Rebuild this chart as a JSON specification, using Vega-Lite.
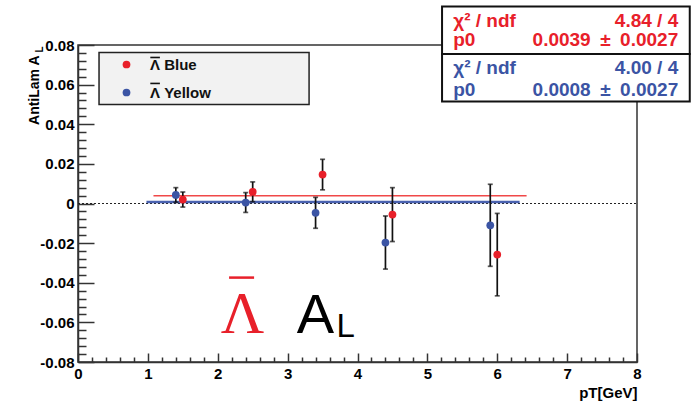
{
  "$schema": "https://vega.github.io/schema/vega-lite/v6.json",
  "width": 559,
  "height": 317,
  "autosize": {"type": "none"},
  "padding": {"left": 78, "top": 45, "right": 56, "bottom": 40},
  "background": "white",
  "config": {
    "view": {"stroke": "#333", "strokeWidth": 1.5},
    "font": "Liberation Sans"
  },
  "resolve": {"axis": {"x": "independent", "y": "independent"}},
  "datasets": {
    "points": [
      {"beam": "Λ̄ Blue", "pT": 1.5, "AL": 0.0020, "err": 0.0038},
      {"beam": "Λ̄ Blue", "pT": 2.5, "AL": 0.0059, "err": 0.0050},
      {"beam": "Λ̄ Blue", "pT": 3.5, "AL": 0.0146, "err": 0.0077},
      {"beam": "Λ̄ Blue", "pT": 4.5, "AL": -0.0056, "err": 0.0136},
      {"beam": "Λ̄ Blue", "pT": 6.0, "AL": -0.0258, "err": 0.0208},
      {"beam": "Λ̄ Yellow", "pT": 1.4, "AL": 0.0043, "err": 0.0037},
      {"beam": "Λ̄ Yellow", "pT": 2.4, "AL": 0.0005, "err": 0.0050},
      {"beam": "Λ̄ Yellow", "pT": 3.4, "AL": -0.0047, "err": 0.0078},
      {"beam": "Λ̄ Yellow", "pT": 4.4, "AL": -0.0197, "err": 0.0134},
      {"beam": "Λ̄ Yellow", "pT": 5.9, "AL": -0.0110, "err": 0.0207}
    ],
    "fits": [
      {"beam": "Λ̄ Blue", "p0": 0.0039, "lo": 1.08, "hi": 6.42, "chi2": "4.84 / 4", "p0txt": "0.0039\u2002±\u20020.0027"},
      {"beam": "Λ̄ Yellow", "p0": 0.0008, "lo": 0.98, "hi": 6.32, "chi2": "4.00 / 4", "p0txt": "0.0008\u2002±\u20020.0027"}
    ],
    "one": [{}]
  },
  "layer": [
    {
      "data": {"name": "one"},
      "mark": {"type": "rect", "fill": "#f2f2f2", "stroke": "#222", "strokeWidth": 1.5, "clip": false},
      "encoding": {"x": {"datum": 0.301, "axis": null}, "x2": {"datum": 3.307}, "y": {"datum": 0.0762, "axis": null}, "y2": {"datum": 0.0500}}
    },
    {
      "data": {"name": "one"},
      "mark": {"type": "rule", "color": "#111", "strokeWidth": 1.6},
      "encoding": {"x": {"datum": 1.035, "axis": null}, "x2": {"datum": 1.172}, "y": {"datum": 0.0737, "axis": null}}
    },
    {
      "data": {"name": "one"},
      "mark": {"type": "rule", "color": "#111", "strokeWidth": 1.6},
      "encoding": {"x": {"datum": 1.035, "axis": null}, "x2": {"datum": 1.172}, "y": {"datum": 0.0606, "axis": null}}
    },
    {
      "data": {"name": "one"},
      "mark": {"type": "rule", "color": "#222", "strokeWidth": 1.2, "strokeDash": [2, 2]},
      "encoding": {"x": {"datum": 0, "axis": null}, "x2": {"datum": 8}, "y": {"datum": 0, "axis": null}}
    },
    {
      "data": {"name": "fits"},
      "transform": [{"filter": "datum.beam == 'Λ̄ Yellow'"}],
      "mark": {"type": "rule", "color": "#4a62b0", "strokeWidth": 2.5},
      "encoding": {"x": {"field": "lo", "type": "quantitative", "axis": null}, "x2": {"field": "hi"}, "y": {"field": "p0", "type": "quantitative", "axis": null}}
    },
    {
      "data": {"name": "fits"},
      "transform": [{"filter": "datum.beam == 'Λ̄ Blue'"}],
      "mark": {"type": "rule", "color": "#f04848", "strokeWidth": 1.6},
      "encoding": {"x": {"field": "lo", "type": "quantitative", "axis": null}, "x2": {"field": "hi"}, "y": {"field": "p0", "type": "quantitative", "axis": null}}
    },
    {
      "data": {"name": "points"},
      "mark": {"type": "errorbar", "ticks": {"size": 5, "color": "#111"}, "rule": {"color": "#111"}, "thickness": 1.7},
      "encoding": {
        "x": {"field": "pT", "type": "quantitative", "axis": null},
        "y": {"field": "AL", "type": "quantitative", "axis": null},
        "yError": {"field": "err"}
      }
    },
    {
      "data": {"name": "points"},
      "mark": {"type": "point", "filled": true, "size": 60, "opacity": 1, "clip": false},
      "encoding": {
        "x": {
          "field": "pT", "type": "quantitative",
          "scale": {"domain": [0, 8], "nice": false, "zero": false},
          "axis": {
            "values": [0,0.2,0.4,0.6,0.8,1,1.2,1.4,1.6,1.8,2,2.2,2.4,2.6,2.8,3,3.2,3.4,3.6,3.8,4,4.2,4.4,4.6,4.8,5,5.2,5.4,5.6,5.8,6,6.2,6.4,6.6,6.8,7,7.2,7.4,7.6,7.8,8],
            "orient": "bottom",
            "grid": false,
            "domainColor": "#333", "domainWidth": 1.5,
            "tickColor": "#333", "tickWidth": 1.5,
            "tickSize": {"condition": {"test": "abs(datum.value - round(datum.value)) < 0.001", "value": -9}, "value": -5},
            "labelExpr": "abs(datum.value - round(datum.value)) < 0.001 ? format(datum.value, 'd') : ''",
            "labelFont": "Liberation Sans", "labelFontWeight": "bold", "labelFontSize": 15, "labelColor": "#000",
            "labelPadding": 13, "labelOverlap": false, "labelFlush": false, "labelBaseline": "top",
            "title": "pT[GeV]",
            "titleFont": "Liberation Sans", "titleFontWeight": "bold", "titleFontSize": 15, "titleColor": "#000",
            "titleAlign": "right", "titleBaseline": "alphabetic", "titleX": 559, "titleY": 35
          }
        },
        "y": {
          "field": "AL", "type": "quantitative",
          "scale": {"domain": [-0.08, 0.08], "nice": false, "zero": false},
          "axis": {
            "values": [-0.08,-0.076,-0.072,-0.068,-0.064,-0.06,-0.056,-0.052,-0.048,-0.044,-0.04,-0.036,-0.032,-0.028,-0.024,-0.02,-0.016,-0.012,-0.008,-0.004,0,0.004,0.008,0.012,0.016,0.02,0.024,0.028,0.032,0.036,0.04,0.044,0.048,0.052,0.056,0.06,0.064,0.068,0.072,0.076,0.08],
            "orient": "left",
            "grid": false,
            "domainColor": "#333", "domainWidth": 1.5,
            "tickColor": "#333", "tickWidth": 1.5,
            "tickSize": {"condition": {"test": "abs(datum.value * 50 - round(datum.value * 50)) < 0.001", "value": -16}, "value": -8},
            "labelExpr": "abs(datum.value * 50 - round(datum.value * 50)) < 0.001 ? (abs(datum.value) < 0.000001 ? '0' : (datum.value < 0 ? '-' : '') + format(abs(datum.value), '.2f')) : ''",
            "labelFont": "Liberation Sans", "labelFontWeight": "bold", "labelFontSize": 15, "labelColor": "#000",
            "labelPadding": 20, "labelOverlap": false, "labelFlush": false,
            "title": "AntiLam A",
            "titleFont": "Liberation Sans", "titleFontWeight": "bold", "titleFontSize": 14, "titleColor": "#000",
            "titleAngle": 270, "titleAlign": "right", "titleBaseline": "alphabetic", "titleX": -40, "titleY": 10
          }
        },
        "color": {
          "field": "beam", "type": "nominal",
          "scale": {"domain": ["Λ̄ Blue", "Λ̄ Yellow"], "range": ["#e8202a", "#3b54a4"]},
          "legend": {
            "title": null, "orient": "none", "legendX": 21, "legendY": 7,
            "padding": 5, "rowPadding": 12,
            "symbolType": "circle", "symbolSize": 60, "symbolStrokeWidth": 0, "symbolOffset": 15,
            "labelOffset": 16, "labelFont": "Liberation Sans", "labelFontWeight": "bold", "labelFontSize": 15,
            "labelColor": "#111", "labelLimit": 400,
            "labelExpr": "replace(datum.label, '\u0304', '')"
          }
        }
      }
    },
    {
      "data": {"name": "one"},
      "mark": {"type": "text", "text": "L", "angle": 270, "align": "left", "baseline": "alphabetic", "font": "Liberation Sans", "fontWeight": "bold", "fontSize": 10, "color": "#000", "clip": false},
      "encoding": {"x": {"datum": -0.5, "axis": null}, "y": {"datum": 0.0762, "axis": null}}
    },
    {
      "data": {"name": "one"},
      "mark": {"type": "text", "text": "Λ", "align": "center", "baseline": "alphabetic", "font": "Liberation Serif", "fontSize": 60, "color": "#e8202a"},
      "encoding": {"x": {"datum": 2.354, "axis": null}, "y": {"datum": -0.0654, "axis": null}}
    },
    {
      "data": {"name": "one"},
      "mark": {"type": "rule", "color": "#e8202a", "strokeWidth": 2.5},
      "encoding": {"x": {"datum": 2.162, "axis": null}, "x2": {"datum": 2.52}, "y": {"datum": -0.0374, "axis": null}}
    },
    {
      "data": {"name": "one"},
      "mark": {"type": "text", "text": "A", "align": "left", "baseline": "alphabetic", "font": "Liberation Sans", "fontSize": 56, "color": "#000"},
      "encoding": {"x": {"datum": 3.13, "axis": null}, "y": {"datum": -0.0652, "axis": null}}
    },
    {
      "data": {"name": "one"},
      "mark": {"type": "text", "text": "L", "align": "left", "baseline": "alphabetic", "font": "Liberation Sans", "fontSize": 33, "color": "#000"},
      "encoding": {"x": {"datum": 3.70, "axis": null}, "y": {"datum": -0.0675, "axis": null}}
    },
    {
      "data": {"name": "one"},
      "mark": {"type": "rect", "fill": "white", "stroke": "#111", "strokeWidth": 2, "clip": false},
      "encoding": {"x": {"datum": 5.21, "axis": null}, "x2": {"datum": 8.755}, "y": {"datum": 0.0994, "axis": null}, "y2": {"datum": 0.0755}}
    },
    {
      "data": {"name": "one"},
      "mark": {"type": "rect", "fill": "white", "stroke": "#111", "strokeWidth": 2, "clip": false},
      "encoding": {"x": {"datum": 5.21, "axis": null}, "x2": {"datum": 8.755}, "y": {"datum": 0.0755, "axis": null}, "y2": {"datum": 0.0515}}
    },
    {
      "data": {"name": "fits"},
      "transform": [{"filter": "datum.beam == 'Λ̄ Blue'"}],
      "mark": {"type": "text", "text": "χ² / ndf", "align": "left", "baseline": "alphabetic", "font": "Liberation Sans", "fontWeight": "bold", "fontSize": 19, "color": "#e8202a", "clip": false},
      "encoding": {"x": {"datum": 5.37, "axis": null}, "y": {"datum": 0.0892, "axis": null}}
    },
    {
      "data": {"name": "fits"},
      "transform": [{"filter": "datum.beam == 'Λ̄ Blue'"}],
      "mark": {"type": "text", "align": "right", "baseline": "alphabetic", "font": "Liberation Sans", "fontWeight": "bold", "fontSize": 19, "color": "#e8202a", "clip": false},
      "encoding": {"x": {"datum": 8.59, "axis": null}, "y": {"datum": 0.0892, "axis": null}, "text": {"field": "chi2"}}
    },
    {
      "data": {"name": "fits"},
      "transform": [{"filter": "datum.beam == 'Λ̄ Blue'"}],
      "mark": {"type": "text", "text": "p0", "align": "left", "baseline": "alphabetic", "font": "Liberation Sans", "fontWeight": "bold", "fontSize": 19, "color": "#e8202a", "clip": false},
      "encoding": {"x": {"datum": 5.37, "axis": null}, "y": {"datum": 0.0796, "axis": null}}
    },
    {
      "data": {"name": "fits"},
      "transform": [{"filter": "datum.beam == 'Λ̄ Blue'"}],
      "mark": {"type": "text", "align": "right", "baseline": "alphabetic", "font": "Liberation Sans", "fontWeight": "bold", "fontSize": 19, "color": "#e8202a", "clip": false},
      "encoding": {"x": {"datum": 8.59, "axis": null}, "y": {"datum": 0.0796, "axis": null}, "text": {"field": "p0txt"}}
    },
    {
      "data": {"name": "fits"},
      "transform": [{"filter": "datum.beam == 'Λ̄ Yellow'"}],
      "mark": {"type": "text", "text": "χ² / ndf", "align": "left", "baseline": "alphabetic", "font": "Liberation Sans", "fontWeight": "bold", "fontSize": 19, "color": "#3b54a4", "clip": false},
      "encoding": {"x": {"datum": 5.37, "axis": null}, "y": {"datum": 0.0653, "axis": null}}
    },
    {
      "data": {"name": "fits"},
      "transform": [{"filter": "datum.beam == 'Λ̄ Yellow'"}],
      "mark": {"type": "text", "align": "right", "baseline": "alphabetic", "font": "Liberation Sans", "fontWeight": "bold", "fontSize": 19, "color": "#3b54a4", "clip": false},
      "encoding": {"x": {"datum": 8.59, "axis": null}, "y": {"datum": 0.0653, "axis": null}, "text": {"field": "chi2"}}
    },
    {
      "data": {"name": "fits"},
      "transform": [{"filter": "datum.beam == 'Λ̄ Yellow'"}],
      "mark": {"type": "text", "text": "p0", "align": "left", "baseline": "alphabetic", "font": "Liberation Sans", "fontWeight": "bold", "fontSize": 19, "color": "#3b54a4", "clip": false},
      "encoding": {"x": {"datum": 5.37, "axis": null}, "y": {"datum": 0.0543, "axis": null}}
    },
    {
      "data": {"name": "fits"},
      "transform": [{"filter": "datum.beam == 'Λ̄ Yellow'"}],
      "mark": {"type": "text", "align": "right", "baseline": "alphabetic", "font": "Liberation Sans", "fontWeight": "bold", "fontSize": 19, "color": "#3b54a4", "clip": false},
      "encoding": {"x": {"datum": 8.59, "axis": null}, "y": {"datum": 0.0543, "axis": null}, "text": {"field": "p0txt"}}
    }
  ]
}
